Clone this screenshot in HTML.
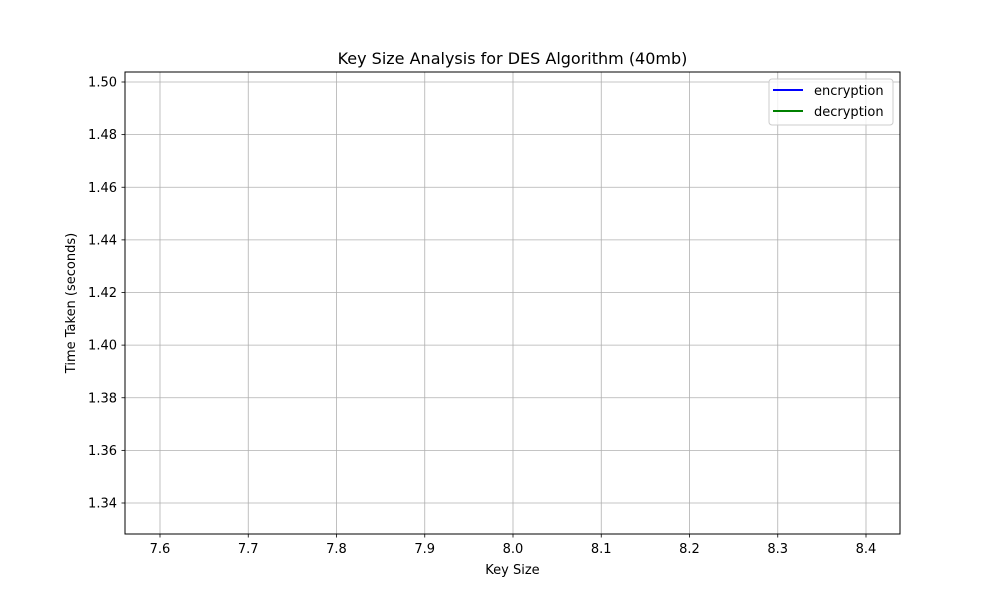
<!DOCTYPE html>
<html><head><meta charset="utf-8"><style>
body{margin:0;background:#fff}
svg{font-family:"DejaVu Sans","Liberation Sans",sans-serif}
</style></head><body>
<svg id="c" width="1000" height="600" viewBox="0 0 1000 600">
<rect width="1000" height="600" fill="#fff"/>
<g id="grid"></g>
<g id="series"></g>
<rect x="125" y="72" width="775" height="462" fill="none" stroke="#000" stroke-width="1"/>
<g id="ticks"></g>
<text x="512.5" y="64" font-size="16" text-anchor="middle">Key Size Analysis for DES Algorithm (40mb)</text>
<text x="512.5" y="574" font-size="13" text-anchor="middle">Key Size</text>
<text transform="translate(75,303) rotate(-90)" font-size="13" text-anchor="middle">Time Taken (seconds)</text>
<g>
<rect x="769" y="79" width="124" height="46" rx="3" fill="#fff" fill-opacity="0.8" stroke="#ccc"/>
<line x1="773" y1="90" x2="803" y2="90" stroke="#0000ff" stroke-width="2"/>
<text x="814" y="95" font-size="13">encryption</text>
<line x1="773" y1="111" x2="803" y2="111" stroke="#008000" stroke-width="2"/>
<text x="814" y="116" font-size="13">decryption</text>
</g>
</svg>
<script>
const keySizes=[8];
const encryption=[1.4954];
const decryption=[1.3366];
const xTicks=[7.6,7.7,7.8,7.9,8.0,8.1,8.2,8.3,8.4];
const yTicks=[1.34,1.36,1.38,1.40,1.42,1.44,1.46,1.48,1.50];
const X=v=>160+(v-7.6)*(866-160)/0.8;
const Y=v=>503-(v-1.34)*(503-82)/0.16;
const ns="http://www.w3.org/2000/svg";
function mk(t,a,p){const e=document.createElementNS(ns,t);for(const k in a)e.setAttribute(k,a[k]);p.appendChild(e);return e;}
const g=document.getElementById('grid'),tk=document.getElementById('ticks'),s=document.getElementById('series');
xTicks.forEach(v=>{const x=X(v);
const l=mk('line',{x1:x,x2:x,y1:72,y2:534,stroke:'#b0b0b0','stroke-width':0.8},g);


mk('line',{x1:x,x2:x,y1:534,y2:537.5,stroke:'#000','stroke-width':0.8},tk);
const t=mk('text',{x:x,y:553,'font-size':13,'text-anchor':'middle'},tk);t.textContent=v.toFixed(1);

});
yTicks.forEach(v=>{const y=Y(v);
const l=mk('line',{x1:125,x2:900,y1:y,y2:y,stroke:'#b0b0b0','stroke-width':0.8},g);


mk('line',{x1:121.5,x2:125,y1:y,y2:y,stroke:'#000','stroke-width':0.8},tk);
const t=mk('text',{x:117,y:y+4.5,'font-size':13,'text-anchor':'end'},tk);t.textContent=v.toFixed(2);

});
function line(d,c,n){const p=mk('polyline',{points:keySizes.map((k,i)=>X(k)+','+Y(d[i])).join(' '),fill:'none',stroke:c,'stroke-width':1.5},s);

}
line(encryption,'#0000ff','encryption-line');
line(decryption,'#008000','decryption-line');
</script>
</body></html>
